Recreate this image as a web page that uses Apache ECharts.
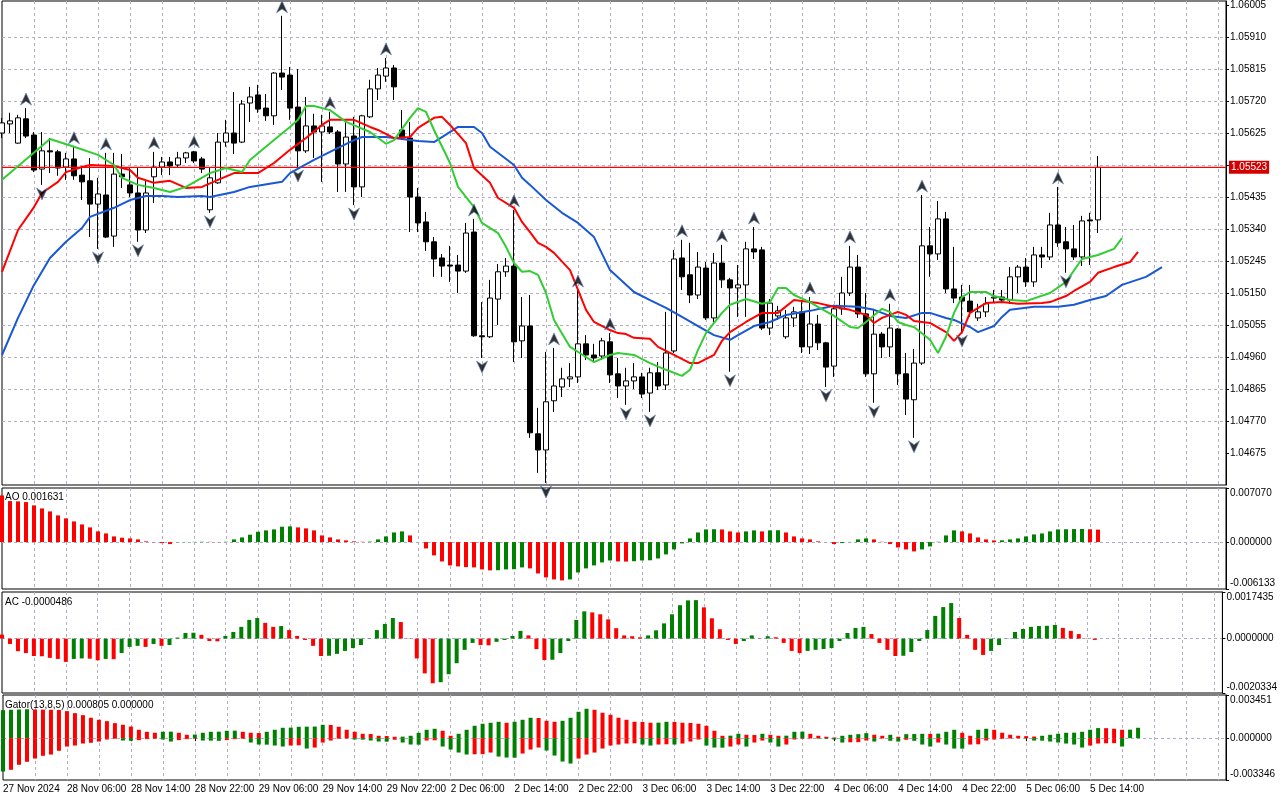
<!DOCTYPE html>
<html><head><meta charset="utf-8">
<script src="https://cdn.jsdelivr.net/npm/echarts@6/dist/echarts.min.js"></script>
<style>html,body{margin:0;padding:0;background:#fff}#c{width:1280px;height:800px}</style>
</head><body><div id="c"></div>
<script>
// ---------- DATA ----------
const tickLabels = ['27 Nov 2024','28 Nov 06:00','28 Nov 14:00','28 Nov 22:00','29 Nov 06:00','29 Nov 14:00','29 Nov 22:00','2 Dec 06:00','2 Dec 14:00','2 Dec 22:00','3 Dec 06:00','3 Dec 14:00','3 Dec 22:00','4 Dec 06:00','4 Dec 14:00','4 Dec 22:00','5 Dec 06:00','5 Dec 14:00'];
const priceTicks = [1.04675,1.04770,1.04865,1.04960,1.05055,1.05150,1.05245,1.05340,1.05435,1.05530,1.05625,1.05720,1.05815,1.05910,1.06005];
const priceLabelTicks = [1.04675,1.04770,1.04865,1.04960,1.05055,1.05150,1.05245,1.05340,1.05435,1.05625,1.05720,1.05815,1.05910,1.06005];
const lastPrice = 1.05523;

const opens = [1.05625,1.05652,1.05595,1.05667,1.05619,1.05518,1.05572,1.05569,1.05524,1.05548,
1.05500,1.05483,1.05414,1.05441,1.05319,1.05503,1.05471,1.05447,1.05337,1.05495,
1.05524,1.05539,1.05530,1.05551,1.05569,1.05548,1.05397,1.05477,1.05598,1.05625,
1.05598,1.05714,1.05738,1.05699,1.05676,1.05803,1.05797,1.05702,1.05572,1.05646,
1.05628,1.05643,1.05628,1.05533,1.05616,1.05465,1.05673,1.05756,1.05794,1.05818,
1.05634,1.05610,1.05435,1.05361,1.05302,1.05254,1.05233,1.05233,1.05215,1.05331,
1.05023,1.05020,1.05132,1.05213,1.05230,1.05008,1.05052,1.04732,1.04684,1.04830,
1.04871,1.04895,1.04901,1.04999,1.04966,1.04963,1.05005,1.04910,1.04874,1.04889,
1.04901,1.04853,1.04913,1.04877,1.04978,1.05254,1.05204,1.05144,1.05224,1.05076,
1.05239,1.05189,1.05165,1.05174,1.05281,1.05278,1.05046,1.05082,1.05020,1.05076,
1.05094,1.04990,1.05058,1.05002,1.04933,1.05103,1.05150,1.05227,1.05088,1.04910,
1.05028,1.04990,1.05043,1.04910,1.04833,1.04942,1.05290,1.05266,1.05370,1.05162,
1.05138,1.05126,1.05076,1.05094,1.05135,1.05138,1.05129,1.05198,1.05227,1.05183,
1.05263,1.05257,1.05352,1.05302,1.05281,1.05257,1.05367,1.05367];
const highs = [1.05670,1.05685,1.05679,1.05699,1.05628,1.05628,1.05610,1.05575,1.05566,1.05584,
1.05527,1.05551,1.05492,1.05566,1.05566,1.05563,1.05524,1.05524,1.05486,1.05569,
1.05554,1.05554,1.05569,1.05569,1.05572,1.05554,1.05521,1.05625,1.05664,1.05747,
1.05723,1.05762,1.05768,1.05741,1.05806,1.05973,1.05821,1.05815,1.05732,1.05682,
1.05679,1.05688,1.05634,1.05664,1.05673,1.05679,1.05783,1.05818,1.05848,1.05827,
1.05693,1.05658,1.05462,1.05391,1.05316,1.05266,1.05290,1.05263,1.05358,1.05370,
1.05123,1.05189,1.05236,1.05254,1.05397,1.05138,1.05144,1.04809,1.04975,1.04987,
1.04928,1.04942,1.05159,1.05025,1.04999,1.05017,1.05031,1.04957,1.04928,1.04942,
1.04913,1.04928,1.04945,1.05094,1.05278,1.05308,1.05299,1.05272,1.05242,1.05269,
1.05293,1.05195,1.05233,1.05302,1.05346,1.05287,1.05132,1.05112,1.05100,1.05109,
1.05123,1.05138,1.05085,1.05005,1.05115,1.05198,1.05290,1.05263,1.05150,1.05100,
1.05034,1.05118,1.05046,1.04972,1.04984,1.05441,1.05346,1.05423,1.05391,1.05287,
1.05174,1.05174,1.05118,1.05138,1.05159,1.05159,1.05227,1.05233,1.05254,1.05287,
1.05287,1.05388,1.05465,1.05346,1.05352,1.05379,1.05388,1.05557];
const lows = [1.05610,1.05625,1.05593,1.05610,1.05509,1.05471,1.05506,1.05498,1.05486,1.05486,
1.05426,1.05316,1.05281,1.05313,1.05287,1.05462,1.05435,1.05302,1.05328,1.05417,
1.05500,1.05500,1.05521,1.05536,1.05536,1.05506,1.05388,1.05474,1.05584,1.05563,
1.05595,1.05658,1.05685,1.05661,1.05649,1.05753,1.05664,1.05524,1.05566,1.05551,
1.05480,1.05622,1.05450,1.05450,1.05411,1.05435,1.05670,1.05723,1.05777,1.05723,
1.05604,1.05331,1.05331,1.05275,1.05198,1.05198,1.05183,1.05150,1.05210,1.05020,
1.04957,1.05017,1.05055,1.05198,1.04945,1.04957,1.04720,1.04616,1.04586,1.04797,
1.04841,1.04871,1.04883,1.04951,1.04945,1.04951,1.04883,1.04838,1.04818,1.04865,
1.04838,1.04797,1.04862,1.04862,1.04972,1.05159,1.05120,1.05132,1.05070,1.05064,
1.05165,1.04916,1.05079,1.05079,1.05251,1.05040,1.05025,1.05070,1.05014,1.05049,
1.04972,1.04969,1.04981,1.04871,1.04901,1.05085,1.05141,1.05076,1.04901,1.04824,
1.04957,1.04960,1.04877,1.04788,1.04720,1.04936,1.05198,1.05248,1.05150,1.05120,
1.05034,1.05079,1.05067,1.05079,1.05120,1.05120,1.05118,1.05150,1.05168,1.05168,
1.05224,1.05248,1.05287,1.05210,1.05248,1.05230,1.05233,1.05328];
const closes = [1.05655,1.05661,1.05670,1.05616,1.05515,1.05572,1.05569,1.05521,1.05548,1.05498,
1.05480,1.05414,1.05444,1.05316,1.05503,1.05495,1.05447,1.05337,1.05447,1.05524,
1.05539,1.05527,1.05551,1.05566,1.05542,1.05518,1.05492,1.05598,1.05625,1.05595,
1.05711,1.05732,1.05696,1.05676,1.05803,1.05791,1.05699,1.05572,1.05646,1.05628,
1.05646,1.05628,1.05533,1.05613,1.05465,1.05676,1.05756,1.05797,1.05818,1.05762,
1.05610,1.05435,1.05358,1.05302,1.05251,1.05230,1.05230,1.05215,1.05328,1.05023,
1.05020,1.05135,1.05213,1.05230,1.05005,1.05052,1.04735,1.04684,1.04827,1.04874,
1.04895,1.04901,1.04999,1.04966,1.04957,1.05008,1.04907,1.04874,1.04889,1.04901,
1.04850,1.04913,1.04874,1.04972,1.05251,1.05198,1.05144,1.05227,1.05076,1.05239,
1.05189,1.05165,1.05174,1.05281,1.05272,1.05046,1.05120,1.05097,1.05076,1.05094,
1.04990,1.05058,1.05002,1.04930,1.05103,1.05150,1.05227,1.05088,1.04910,1.05028,
1.04990,1.05046,1.04910,1.04835,1.04942,1.05290,1.05266,1.05370,1.05162,1.05135,
1.05126,1.05094,1.05094,1.05118,1.05138,1.05129,1.05198,1.05227,1.05183,1.05263,
1.05257,1.05352,1.05299,1.05281,1.05257,1.05364,1.05364,1.05523];

// Alligator lines: [bar index, price] read where visible
const lipsPts = [[0,1.05486],[6,1.05607],[9,1.05584],[12,1.05560],[14,1.05530],[15,1.05492],[17,1.05471],[19,1.05462],[21,1.05450],[23,1.05465],[26,1.05506],[28,1.05521],[30,1.05509],[31,1.05545],[34,1.05604],[36,1.05643],[37,1.05664],[38,1.05705],[39,1.05705],[41,1.05693],[43,1.05658],[46,1.05628],[48,1.05593],[49,1.05604],[51,1.05670],[52,1.05699],[53,1.05688],[54,1.05634],[56,1.05536],[57,1.05465],[59,1.05405],[60,1.05358],[62,1.05328],[63,1.05287],[64,1.05239],[65,1.05213],[66,1.05215],[67,1.05204],[68,1.05150],[69,1.05070],[71,1.04990],[73,1.04960],[74,1.04945],[76,1.04966],[77,1.04972],[79,1.04966],[81,1.04942],[83,1.04922],[85,1.04904],[86,1.04922],[87,1.04981],[88,1.05031],[90,1.05091],[91,1.05115],[93,1.05132],[95,1.05118],[96,1.05123],[97,1.05165],[98,1.05165],[99,1.05144],[101,1.05123],[102,1.05109],[104,1.05082],[106,1.05049],[107,1.05046],[108,1.05064],[110,1.05103],[111,1.05094],[112,1.05064],[113,1.05055],[114,1.05049],[116,1.05011],[117,1.04972],[118,1.05020],[119,1.05091],[120,1.05138],[121,1.05153],[123,1.05153],[124,1.05141],[126,1.05129],[128,1.05126],[131,1.05150],[133,1.05183],[135,1.05251],[137,1.05263],[139,1.05281],[140,1.05313]];
const teethPts = [[0,1.05213],[2,1.05337],[4,1.05405],[5,1.05447],[7,1.05480],[8,1.05509],[10,1.05524],[11,1.05530],[14,1.05527],[16,1.05515],[17,1.05492],[19,1.05477],[21,1.05483],[23,1.05462],[25,1.05465],[27,1.05486],[29,1.05506],[32,1.05506],[34,1.05536],[36,1.05575],[38,1.05610],[40,1.05649],[41,1.05664],[44,1.05664],[46,1.05643],[47,1.05634],[49,1.05610],[51,1.05613],[52,1.05640],[54,1.05670],[55,1.05673],[56,1.05649],[58,1.05595],[59,1.05521],[61,1.05477],[62,1.05432],[64,1.05403],[65,1.05361],[66,1.05331],[67,1.05299],[68,1.05287],[69,1.05269],[71,1.05218],[72,1.05159],[73,1.05100],[74,1.05064],[76,1.05040],[77,1.05031],[78,1.05028],[79,1.05017],[81,1.05014],[82,1.04990],[84,1.04966],[86,1.04942],[87,1.04942],[89,1.04966],[90,1.05008],[91,1.05034],[93,1.05064],[95,1.05091],[97,1.05091],[99,1.05129],[101,1.05123],[102,1.05120],[104,1.05109],[106,1.05100],[108,1.05085],[109,1.05061],[110,1.05076],[112,1.05094],[113,1.05085],[114,1.05067],[116,1.05061],[118,1.05034],[119,1.05008],[120,1.05034],[121,1.05091],[123,1.05120],[125,1.05123],[127,1.05118],[130,1.05120],[131,1.05123],[133,1.05141],[134,1.05156],[136,1.05183],[137,1.05210],[139,1.05227],[141,1.05242],[142,1.05272]];
const jawPts = [[0,1.04966],[2,1.05076],[4,1.05174],[6,1.05254],[8,1.05302],[10,1.05343],[11,1.05376],[14,1.05403],[16,1.05426],[18,1.05438],[20,1.05438],[22,1.05435],[25,1.05438],[26,1.05435],[29,1.05450],[31,1.05465],[35,1.05480],[36,1.05506],[39,1.05545],[41,1.05569],[44,1.05604],[45,1.05613],[48,1.05613],[50,1.05607],[52,1.05601],[54,1.05598],[55,1.05613],[57,1.05643],[59,1.05643],[60,1.05625],[61,1.05584],[64,1.05530],[65,1.05492],[66,1.05471],[68,1.05426],[70,1.05388],[72,1.05358],[74,1.05316],[76,1.05218],[79,1.05153],[81,1.05129],[83,1.05106],[85,1.05079],[87,1.05052],[89,1.05025],[91,1.05011],[92,1.05025],[94,1.05052],[96,1.05064],[98,1.05085],[101,1.05097],[104,1.05112],[107,1.05109],[109,1.05100],[111,1.05082],[113,1.05076],[115,1.05091],[116,1.05091],[118,1.05076],[119,1.05070],[121,1.05049],[122,1.05034],[124,1.05052],[125,1.05079],[126,1.05100],[129,1.05109],[132,1.05109],[134,1.05115],[136,1.05129],[138,1.05141],[140,1.05174],[143,1.05198],[145,1.05227]];

const fractalUpIdx = [3,9,13,19,24,35,41,48,59,64,69,72,76,85,90,94,101,106,111,115,132];
const fractalDownIdx = [5,12,17,26,37,44,60,68,78,81,91,103,109,114,120,133];

const aoValues = [0.00610,0.00536,0.00532,0.00523,0.00480,0.00440,0.00401,0.00349,0.00310,0.00270,
0.00231,0.00192,0.00140,0.00113,0.00074,0.00057,0.00048,0.00035,0.00009,-0.00003,
-0.00013,-0.00026,-0.00002,0.00002,0.00003,0.00004,0.00003,0.00002,0.00004,0.00035,
0.00061,0.00096,0.00135,0.00153,0.00166,0.00201,0.00205,0.00192,0.00179,0.00153,
0.00087,0.00061,0.00035,0.00022,0.00009,0.00004,0.00006,0.00035,0.00074,0.00126,
0.00140,0.00087,-0.00001,-0.00083,-0.00174,-0.00253,-0.00305,-0.00318,-0.00327,-0.00331,
-0.00357,-0.00370,-0.00368,-0.00357,-0.00355,-0.00331,-0.00344,-0.00410,-0.00462,-0.00488,
-0.00501,-0.00488,-0.00397,-0.00344,-0.00305,-0.00266,-0.00240,-0.00253,-0.00255,-0.00250,
-0.00240,-0.00238,-0.00214,-0.00161,-0.00096,-0.00017,0.00048,0.00126,0.00166,0.00168,
0.00165,0.00140,0.00126,0.00140,0.00153,0.00140,0.00153,0.00155,0.00126,0.00074,
0.00048,0.00035,0.00009,-0.00001,-0.00026,-0.00013,0.00002,0.00035,0.00048,0.00035,
0.00004,-0.00026,-0.00070,-0.00096,-0.00122,-0.00096,-0.00057,0.00004,0.00087,0.00153,
0.00140,0.00113,0.00061,0.00035,0.00022,0.00023,0.00035,0.00048,0.00074,0.00100,
0.00113,0.00140,0.00166,0.00168,0.00170,0.00171,0.00168,0.001631];
const acValues = [0.00015,-0.00020,-0.00047,-0.00054,-0.00065,-0.00066,-0.00072,-0.00076,-0.00087,-0.00076,
-0.00074,-0.00075,-0.00081,-0.00076,-0.00077,-0.00054,-0.00031,-0.00027,-0.00031,-0.00020,
-0.00027,-0.00024,0.00004,0.00021,0.00022,0.00014,-0.00009,-0.00010,0.00010,0.00025,
0.00044,0.00070,0.00077,0.00059,0.00044,0.00047,0.00032,0.00010,-0.00005,-0.00027,
-0.00065,-0.00064,-0.00057,-0.00046,-0.00035,-0.00024,0.00001,0.00032,0.00055,0.00077,
0.00062,-0.00001,-0.00074,-0.00130,-0.00167,-0.00163,-0.00133,-0.00092,-0.00042,-0.00016,
-0.00024,-0.00025,-0.00012,-0.00005,0.00010,0.00029,0.00012,-0.00039,-0.00080,-0.00079,
-0.00054,-0.00009,0.00070,0.00102,0.00098,0.00091,0.00072,0.00039,0.00012,0.00009,
0.00005,0.00012,0.00031,0.00057,0.00091,0.00125,0.00143,0.00144,0.00117,0.00076,
0.00035,-0.00005,-0.00020,-0.00009,0.00012,-0.00001,0.00009,0.00005,-0.00016,-0.00046,
-0.00054,-0.00046,-0.00042,-0.00039,-0.00035,-0.00009,0.00021,0.00040,0.00044,0.00017,
-0.00016,-0.00042,-0.00065,-0.00064,-0.00050,-0.00009,0.00032,0.00085,0.00118,0.00133,
0.00077,0.00014,-0.00042,-0.00061,-0.00046,-0.00024,-0.00001,0.00025,0.00036,0.00044,
0.00047,0.00048,0.00051,0.00040,0.00029,0.00017,0.00001,-0.0000486];
const gatorUpper = [0.00224,0.00227,0.00229,0.00231,0.00229,0.00228,0.00227,0.00225,0.00216,0.00200,
0.00184,0.00163,0.00147,0.00136,0.00120,0.00107,0.00093,0.00067,0.00051,0.00043,
0.00051,0.00052,0.00043,0.00027,0.00029,0.00043,0.00051,0.00052,0.00059,0.00060,
0.00051,0.00043,0.00041,0.00051,0.00067,0.00083,0.00084,0.00091,0.00092,0.00093,
0.00107,0.00105,0.00091,0.00067,0.00051,0.00035,0.00033,0.00019,0.00017,0.00011,
0.00012,0.00019,0.00043,0.00067,0.00075,0.00059,0.00019,0.00035,0.00067,0.00099,
0.00115,0.00123,0.00131,0.00123,0.00131,0.00147,0.00163,0.00161,0.00139,0.00131,
0.00139,0.00163,0.00211,0.00235,0.00227,0.00203,0.00187,0.00163,0.00147,0.00131,
0.00129,0.00123,0.00124,0.00131,0.00129,0.00123,0.00121,0.00115,0.00099,0.00059,
0.00019,0.00020,0.00035,0.00027,0.00025,0.00035,0.00027,0.00019,0.00020,0.00051,
0.00052,0.00035,0.00019,0.00011,0.00005,0.00019,0.00027,0.00032,0.00040,0.00027,
0.00019,0.00027,0.00011,0.00032,0.00033,0.00035,0.00034,0.00036,0.00051,0.00067,
0.00043,0.00019,0.00067,0.00075,0.00067,0.00043,0.00027,0.00019,0.00016,0.00013,
0.00019,0.00027,0.00035,0.00043,0.00044,0.00051,0.00067,0.000805,0.00080,0.00075,
0.00067,0.00068,0.00083];
const gatorLower = [-0.00267,-0.00253,-0.00213,-0.00189,-0.00163,-0.00141,-0.00131,-0.00101,-0.00067,-0.00059,
-0.00043,-0.00037,-0.00027,-0.00011,-0.00005,-0.00019,-0.00021,-0.00016,-0.00008,-0.00005,
-0.00011,-0.00027,-0.00016,-0.00008,-0.00005,-0.00019,-0.00020,-0.00021,-0.00016,-0.00008,
-0.00005,-0.00035,-0.00051,-0.00052,-0.00059,-0.00067,-0.00059,-0.00057,-0.00083,-0.00075,
-0.00035,-0.00019,-0.00005,-0.00003,-0.00011,-0.00012,-0.00019,-0.00027,-0.00028,-0.00013,
-0.00035,-0.00051,-0.00052,-0.00019,-0.00017,-0.00067,-0.00091,-0.00115,-0.00131,-0.00129,
-0.00128,-0.00115,-0.00147,-0.00155,-0.00156,-0.00123,-0.00091,-0.00075,-0.00099,-0.00139,
-0.00187,-0.00203,-0.00163,-0.00131,-0.00115,-0.00083,-0.00059,-0.00051,-0.00043,-0.00041,
-0.00051,-0.00059,-0.00051,-0.00049,-0.00051,-0.00043,-0.00027,-0.00011,-0.00059,-0.00075,
-0.00076,-0.00067,-0.00051,-0.00067,-0.00035,-0.00019,-0.00035,-0.00067,-0.00051,-0.00011,
-0.00005,-0.00003,-0.00004,-0.00005,-0.00011,-0.00035,-0.00033,-0.00032,-0.00019,-0.00027,
-0.00003,-0.00021,-0.00027,-0.00013,-0.00021,-0.00051,-0.00067,-0.00035,-0.00051,-0.00083,
-0.00084,-0.00051,-0.00049,-0.00019,-0.00011,-0.00005,-0.00003,-0.00001,-0.00002,-0.00019,
-0.00020,-0.00027,-0.00035,-0.00043,-0.00051,-0.00075,-0.00059,-0.00043,-0.00041,-0.00040,
-0.00067];
// values just before the first visible bar (for bar colouring)
const priorValues = {ao: 0.0063, ac: 0.0003, gatorUpper: 0.00220, gatorLower: -0.00260};
const aoRange = [-0.006133, 0.007070];
const acRange = [-0.0020334, 0.0017435];
const gatorRange = [-0.003346, 0.003451];
const priceRange = [1.0458, 1.060169];

// ---------- CHART ----------
const N = 154;
const cats = Array.from({length: N}, (_, i) => String(i));
const FF = 'Liberation Sans, Arial, sans-serif';
const FS = 10;
const GRID_COL = '#b5aec2';
const GREEN = '#008000', RED = '#ff0000';

const candleData = opens.map((o, i) => [o, closes[i], lows[i], highs[i]]);
const lastPriceLine = [[0, lastPrice], [N - 1, lastPrice]];

function coloured(values, prior, absMode) {
  return values.map((v, i) => {
    const p = i === 0 ? prior : values[i - 1];
    const up = absMode ? Math.abs(v) > Math.abs(p) : v > p;
    return {value: v, itemStyle: {color: up ? GREEN : RED}};
  });
}

const xSplit = {show: true, interval: (i) => i > 0 && i % 4 === 0, lineStyle: {color: GRID_COL, type: [3, 3], width: 1}};
function makeX(gi, labels) {
  return {
    type: 'category', gridIndex: gi, data: cats, boundaryGap: false,
    axisLine: {show: false},
    axisTick: labels ? {show: true, interval: (i) => i % 8 === 0 && i <= 136, length: 3, lineStyle: {color: '#000'}} : {show: false},
    axisLabel: labels ? {show: true, interval: (i) => i % 8 === 0 && i <= 136,
      formatter: (v, i) => tickLabels[Math.round(Number(v) / 8)] || '', align: 'left', margin: 4,
      color: '#000', fontSize: FS, fontFamily: FF} : {show: false},
    splitLine: xSplit
  };
}
function near(a, b) { return Math.abs(a - b) < 1e-12; }
function subY(gi, range, dec) {
  const mn = range[0], mx = range[1];
  return {
    type: 'value', gridIndex: gi, position: 'right', min: mn, max: mx,
    axisLine: {show: true, lineStyle: {color: '#000'}},
    axisTick: {show: true, length: 3, customValues: [mn, 0, mx], lineStyle: {color: '#000'}},
    axisLabel: {customValues: [mn, 0, mx], margin: 4, color: '#000', fontSize: FS, fontFamily: FF,
      formatter: (v) => near(v, mx) ? '{t|' + v.toFixed(dec) + '}' : near(v, mn) ? '{b|' + v.toFixed(dec) + '}' : (0).toFixed(dec),
      rich: {t: {padding: [11, 0, 0, 0], fontSize: FS, color: '#000', fontFamily: FF},
             b: {padding: [0, 0, 11, 0], fontSize: FS, color: '#000', fontFamily: FF}}},
    splitLine: {show: true, showMinLine: false, showMaxLine: false, lineStyle: {color: '#a9b0c6', type: [3, 3]}}
  };
}
const titleStyle = {fontSize: FS, fontWeight: 'normal', color: '#000', fontFamily: FF};

const upPath = 'path://M5,0 L10,11 L5,7.5 L0,11 Z';
const downPath = 'path://M0,0 L5,3.5 L10,0 L5,11 Z';

const option = {
  animation: false,
  backgroundColor: '#ffffff',
  title: [
    {text: 'AO ' + aoValues[aoValues.length - 1].toFixed(6), left: 5, top: 492, padding: 0, textStyle: titleStyle},
    {text: 'AC ' + acValues[acValues.length - 1].toFixed(7), left: 5, top: 597, padding: 0, textStyle: titleStyle},
    {text: 'Gator(13,8,5) 0.000805 0.000000', left: 5, top: 700, padding: 0, textStyle: titleStyle}
  ],
  grid: [
    {left: 2, right: 54, top: 1, height: 484, show: true, borderColor: '#000', borderWidth: 1},
    {left: 2, right: 54, top: 488, height: 101, show: true, borderColor: '#000', borderWidth: 1},
    {left: 2, right: 54, top: 592, height: 101, show: true, borderColor: '#000', borderWidth: 1},
    {left: 2, right: 54, top: 695, height: 85, show: true, borderColor: '#000', borderWidth: 1}
  ],
  xAxis: [makeX(0, false), makeX(1, false), makeX(2, false), makeX(3, true)],
  yAxis: [
    {type: 'value', gridIndex: 0, position: 'right', min: priceRange[0], max: priceRange[1],
     axisLine: {show: true, lineStyle: {color: '#000'}},
     axisTick: {show: true, length: 3, customValues: priceTicks, lineStyle: {color: '#000'}},
     axisLabel: {customValues: priceLabelTicks, formatter: (v) => v.toFixed(5), color: '#000', fontSize: FS, margin: 4, fontFamily: FF},
     splitLine: {show: true, showMinLine: false, showMaxLine: false, lineStyle: {color: GRID_COL, type: [3, 3]}}},
    subY(1, aoRange, 6),
    subY(2, acRange, 7),
    subY(3, gatorRange, 6)
  ],
  series: [
    {type: 'candlestick', xAxisIndex: 0, yAxisIndex: 0, data: candleData, barWidth: 5, silent: true, z: 2,
     itemStyle: {color: '#ffffff', color0: '#000000', borderColor: '#000000', borderColor0: '#000000', borderWidth: 1}},
    {type: 'line', xAxisIndex: 0, yAxisIndex: 0, data: lastPriceLine, showSymbol: false, silent: true, z: 2.5,
     lineStyle: {color: '#ff0000', width: 1.2},
     endLabel: {show: true, distance: 3, formatter: lastPrice.toFixed(5), color: '#ffffff',
       backgroundColor: '#d40000', padding: [2, 2, 1, 2], fontSize: FS, fontFamily: FF}},
    {type: 'line', xAxisIndex: 0, yAxisIndex: 0, data: jawPts, showSymbol: false, silent: true, z: 3,
     lineStyle: {color: '#1858d4', width: 2}},
    {type: 'line', xAxisIndex: 0, yAxisIndex: 0, data: teethPts, showSymbol: false, silent: true, z: 3,
     lineStyle: {color: '#ff0000', width: 2}},
    {type: 'line', xAxisIndex: 0, yAxisIndex: 0, data: lipsPts, showSymbol: false, silent: true, z: 3,
     lineStyle: {color: '#32cd32', width: 2}},
    {type: 'scatter', xAxisIndex: 0, yAxisIndex: 0, silent: true, z: 4,
     data: fractalUpIdx.map(i => [i, highs[i]]), symbol: upPath, symbolSize: [11, 12], symbolOffset: [0, -9],
     itemStyle: {color: '#000000', borderColor: '#6a86b8', borderWidth: 0.8}},
    {type: 'scatter', xAxisIndex: 0, yAxisIndex: 0, silent: true, z: 4,
     data: fractalDownIdx.map(i => [i, lows[i]]), symbol: downPath, symbolSize: [11, 12], symbolOffset: [0, 9],
     itemStyle: {color: '#000000', borderColor: '#6a86b8', borderWidth: 0.8}},
    {type: 'bar', xAxisIndex: 1, yAxisIndex: 1, barWidth: 4, silent: true, data: coloured(aoValues, priorValues.ao, false)},
    {type: 'bar', xAxisIndex: 2, yAxisIndex: 2, barWidth: 4, silent: true, data: coloured(acValues, priorValues.ac, false)},
    {type: 'bar', xAxisIndex: 3, yAxisIndex: 3, barWidth: 4, barGap: '-100%', silent: true, data: coloured(gatorUpper, priorValues.gatorUpper, true)},
    {type: 'bar', xAxisIndex: 3, yAxisIndex: 3, barWidth: 4, barGap: '-100%', silent: true, data: coloured(gatorLower, priorValues.gatorLower, true)}
  ]
};
const chart = echarts.init(document.getElementById('c'), null, {renderer: 'canvas'});
chart.setOption(option);
</script>
</body></html>
